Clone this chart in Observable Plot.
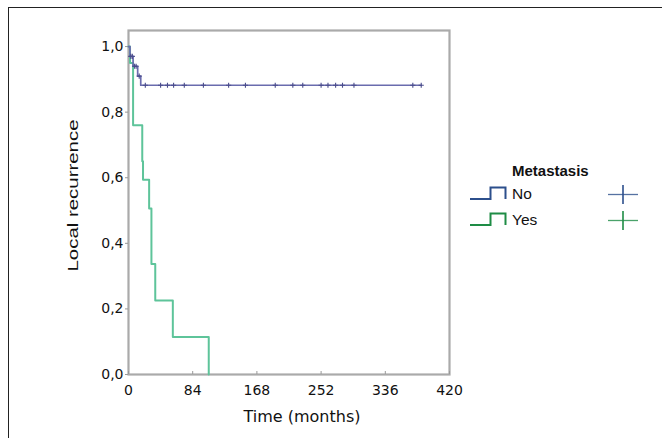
<!DOCTYPE html>
<html>
<head>
<meta charset="utf-8">
<script src="https://cdn.jsdelivr.net/npm/d3@7"></script>
<script src="https://cdn.jsdelivr.net/npm/@observablehq/plot@0.6"></script>
<style>
  html, body { margin: 0; padding: 0; background: #fff; }
  #wrap { position: relative; width: 662px; height: 438px; overflow: hidden; font-family: "Liberation Sans", Arial, Helvetica, sans-serif; }
  #frameTop { position: absolute; left: 8px; top: 7px; width: 660px; height: 0; border-top: 1px solid #222; }
  #frameLeft { position: absolute; left: 8px; top: 7px; width: 0; height: 440px; border-left: 1px solid #222; }
  #legend { position: absolute; left: 465px; top: 160px; width: 190px; font-size: 15.5px; color: #111; }
  #legend .title { position: absolute; left: 47px; top: 2px; font-weight: bold; font-size: 15px; }
  #legend .row { position: absolute; left: 0; height: 20px; width: 190px; }
  #legend .lab { position: absolute; left: 47px; top: 0px; }
  #legend svg { position: absolute; left: 0; top: 0; }
</style>
</head>
<body>
<div id="wrap">
  <div id="chart"></div>
  <div id="frameTop"></div>
  <div id="frameLeft"></div>
  <div id="legend"></div>
</div>
<script>
// Kaplan–Meier estimates
const groups = ["No", "Yes"];
const colors = ["#6a6cae", "#5ec49a"];
const legendColors = ["#2c4f8c", "#1e8c45"];

const noTimes = [0, 2, 6, 12, 16, 383];
const noSurv  = [1, 0.97, 0.94, 0.91, 0.882, 0.882];
const noCensor = [3, 5, 8, 10, 14, 22, 42, 51, 59, 73, 98, 131, 153, 192, 215, 228, 252, 261, 271, 280, 295, 372, 383];

const yesTimes = [0, 2, 6, 18, 19, 27, 30, 35, 58, 105];
const yesSurv  = [1, 0.95, 0.76, 0.65, 0.594, 0.506, 0.337, 0.226, 0.114, 0];

const xTicks = [0, 84, 168, 252, 336, 420];
const yTicks = [0, 0.2, 0.4, 0.6, 0.8, 1.0];

const noLine = noTimes.map((t, i) => ({t, s: noSurv[i]}));
const yesLine = yesTimes.map((t, i) => ({t, s: yesSurv[i]}));
function survAt(times, surv, t) {
  let s = surv[0];
  for (let i = 0; i < times.length; i++) if (times[i] <= t) s = surv[i];
  return s;
}
const noCens = noCensor.map(t => ({t, s: survAt(noTimes, noSurv, t)}));

const fmt = d => d.toFixed(1).replace(".", ",");
const axisFont = "'DejaVu Sans', 'Liberation Sans', Arial, sans-serif";

const chart = Plot.plot({
  width: 662,
  height: 438,
  marginLeft: 128,
  marginRight: 213,
  marginTop: 30,
  marginBottom: 64,
  style: { fontFamily: axisFont, fontSize: "14px", color: "#111", background: "transparent" },
  x: { domain: [0, 420] },
  y: { domain: [0, 1.049] },
  marks: [
    Plot.frame({ stroke: "#aaaaaa", strokeWidth: 2.2 }),
    Plot.axisY({ ticks: yTicks, tickFormat: fmt, tickSize: 3, tickPadding: 2, stroke: "#999", fill: "#111", label: null, fontSize: 14 }),
    Plot.axisX({ ticks: xTicks, tickSize: -3, tickPadding: 14, stroke: "#999", fill: "#111", label: null, fontSize: 14 }),
    Plot.line(yesLine, { x: "t", y: "s", curve: "step-after", stroke: colors[1], strokeWidth: 2 }),
    Plot.line(noLine, { x: "t", y: "s", curve: "step-after", stroke: colors[0], strokeWidth: 1.7 }),
    Plot.dot(noCens, { x: "t", y: "s", symbol: "plus", r: 1.8, stroke: "#4a4c8c", strokeWidth: 1.1 }),
    Plot.text(["Time (months)"], { frameAnchor: "bottom", textAnchor: "middle", dy: 47, dx: 13, fontSize: 16, fill: "#111" }),
    Plot.text(["Local recurrence"], { frameAnchor: "left", textAnchor: "middle", rotate: -90, dx: -55, dy: -7, fontSize: 14, fontFamily: "'Liberation Sans', Arial, sans-serif", fill: "#111" })
  ]
});
document.getElementById("chart").appendChild(chart);

// The source uses a horizontally wide face: stretch the y title along its baseline
d3.select(chart).selectAll("text")
  .filter(function() { return this.textContent === "Local recurrence"; })
  .attr("textLength", 152)
  .attr("lengthAdjust", "spacingAndGlyphs");

// Legend
const legend = document.getElementById("legend");
legend.innerHTML = `<div class="title">Metastasis</div>`;
groups.forEach((g, i) => {
  const top = 25 + i * 26;
  const c = legendColors[i];
  legend.insertAdjacentHTML("beforeend",
    `<div class="row" style="top:${top}px">
      <svg width="190" height="22">
        <path d="M5,14 H25.5 V2.5 H40.5 V14" fill="none" stroke="${c}" stroke-width="2"/>
        <path d="M143,9.5 H173" stroke="${c}" stroke-width="1.3" opacity="0.8"/>
        <path d="M158,0 V19" stroke="${c}" stroke-width="1.6"/>
      </svg>
      <span class="lab">${g}</span>
    </div>`);
});
</script>
</body>
</html>
